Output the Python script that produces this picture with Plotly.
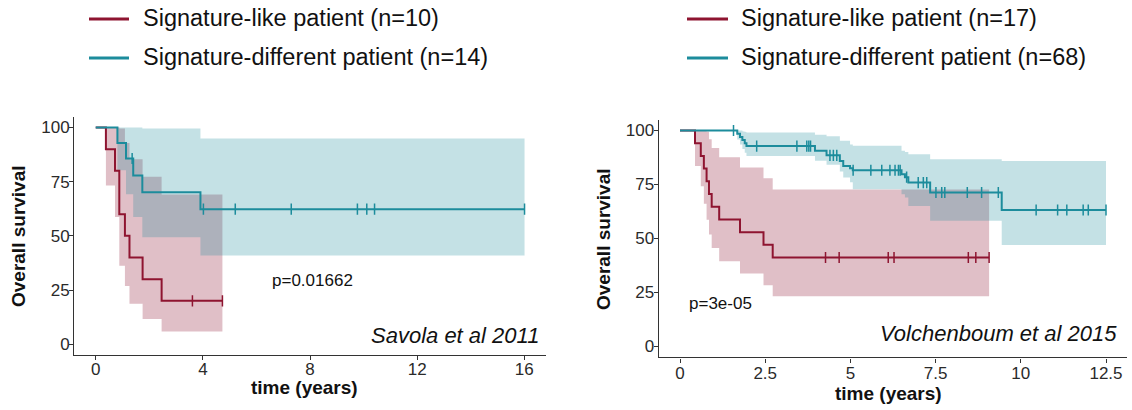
import numpy as np
import plotly.graph_objects as go

# ---------------- Data: Savola et al 2011 (left) ----------------
sav_like_t = [0, 0.38, 0.72, 0.88, 1.09, 1.26, 1.75, 2.46]
sav_like_s = [100, 90, 80, 60, 50, 40, 30, 20]
sav_like_lo = [100, 73.2, 58.7, 36.2, 26.9, 18.7, 11.6, 5.8]
sav_like_hi = [100, 100, 100, 99.5, 92.9, 85.4, 77.3, 69.1]
sav_like_cens = [3.61, 4.73]
sav_like_end = 4.73

sav_diff_t = [0, 0.81, 1.13, 1.40, 1.74, 3.91]
sav_diff_s = [100, 92.9, 85.7, 77.9, 70.1, 62.3]
sav_diff_lo = [100, 80.3, 69.2, 58.7, 49.4, 40.9]
sav_diff_hi = [100, 100, 100, 100, 99.6, 94.9]
sav_diff_cens = [1.36, 4.02, 5.21, 7.30, 9.77, 10.12, 10.41, 16.01]
sav_diff_end = 16.01

# ---------------- Data: Volchenboum et al 2015 (right) ----------------
vol_like_t = [0, 0.44, 0.61, 0.70, 0.78, 0.85, 0.93, 1.15, 1.76, 2.45, 2.72]
vol_like_s = [100, 94.1, 88.2, 82.4, 76.5, 70.6, 64.7, 58.8, 52.9, 47.1, 41.2]
vol_like_lo = [100, 83.6, 74.2, 66.1, 58.7, 51.9, 45.6, 39.5, 33.8, 28.4, 23.3]
vol_like_hi = [100, 100, 100, 100, 99.5, 95.9, 91.9, 87.6, 82.9, 77.9, 72.7]
vol_like_cens = [4.27, 4.67, 6.11, 6.28, 8.46, 8.68, 9.07]
vol_like_end = 9.07

vol_diff_t = [0, 1.68, 1.76, 1.83, 1.90, 1.95, 3.96, 4.30, 4.69, 4.79, 4.99, 5.07,
              6.50, 6.60, 6.70, 7.34, 9.44]
vol_diff_s = [100, 98.5, 97.0, 95.6, 94.1, 92.8, 90.6, 88.5, 85.9, 83.6, 82.5, 81.6,
              79.7, 78.4, 75.9, 71.3, 63.2]
vol_diff_lo = [100, 95.8, 93.5, 91.4, 89.7, 88.2, 86.0, 84.2, 81.0, 78.2, 76.0, 72.8,
               70.5, 69.0, 65.1, 58.2, 47.0]
vol_diff_hi = [100, 100, 100, 99.6, 99.3, 99.1, 98.0, 97.3, 95.2, 95.2, 93.5, 92.9,
               90.6, 90.0, 89.0, 86.7, 85.9]
vol_diff_cens = [1.57, 2.25, 3.43, 3.72, 3.78, 3.83, 4.40, 4.50, 4.60, 5.08, 5.60, 5.92,
                 6.16, 6.31, 6.41, 6.46, 6.65, 6.99, 7.14, 7.24, 7.51, 7.68, 7.77, 8.43,
                 8.85, 9.34, 10.45, 11.08, 11.35, 11.83, 11.98, 12.5]
vol_diff_end = 12.5

legend_left = ["Signature-like patient (n=10)", "Signature-different patient (n=14)"]
legend_right = ["Signature-like patient (n=17)", "Signature-different patient (n=68)"]
x_ticks_left = [0, 4, 8, 12, 16]
x_ticks_right = [0, 2.5, 5, 7.5, 10, 12.5]
x_ticktext_right = ["0", "2.5", "5", "7.5", "10", "12.5"]
y_ticks = [0, 25, 50, 75, 100]

RED = "#8E1430"
TEAL = "#1C8C9C"
RED_FILL = "rgba(142,20,48,0.27)"
TEAL_FILL = "rgba(28,140,156,0.26)"
FONT = "Liberation Sans, Arial, sans-serif"
W, H = 1132, 410

def step_value(ts, ss, tc):
    ts = np.asarray(ts); ss = np.asarray(ss)
    idx = np.searchsorted(ts, tc, side="right") - 1
    return ss[idx]

def band_polygon(ts, lo, hi, t_end):
    xs_u, ys_u, xs_l, ys_l = [], [], [], []
    n = len(ts)
    for i in range(1, n):
        t0 = ts[i]
        t1 = ts[i + 1] if i + 1 < n else t_end
        xs_u += [t0, t1]; ys_u += [hi[i], hi[i]]
        xs_l += [t0, t1]; ys_l += [lo[i], lo[i]]
    return xs_u + xs_l[::-1] + [xs_u[0]], ys_u + ys_l[::-1] + [ys_u[0]]

fig = go.Figure()

def add_group(ts, ss, lo, hi, cens, t_end, color, fill, xa, ya, name):
    px_, py_ = band_polygon(ts, lo, hi, t_end)
    fig.add_trace(go.Scatter(x=px_, y=py_, fill="toself", fillcolor=fill,
                             line=dict(width=0), mode="lines", hoverinfo="skip",
                             showlegend=False, xaxis=xa, yaxis=ya))
    return (ts, ss, cens, t_end, color, xa, ya, name)

groups = []
groups.append(add_group(sav_like_t, sav_like_s, sav_like_lo, sav_like_hi, sav_like_cens,
                        sav_like_end, RED, RED_FILL, "x", "y", legend_left[0]))
groups.append(add_group(sav_diff_t, sav_diff_s, sav_diff_lo, sav_diff_hi, sav_diff_cens,
                        sav_diff_end, TEAL, TEAL_FILL, "x", "y", legend_left[1]))
groups.append(add_group(vol_like_t, vol_like_s, vol_like_lo, vol_like_hi, vol_like_cens,
                        vol_like_end, RED, RED_FILL, "x2", "y2", legend_right[0]))
groups.append(add_group(vol_diff_t, vol_diff_s, vol_diff_lo, vol_diff_hi, vol_diff_cens,
                        vol_diff_end, TEAL, TEAL_FILL, "x2", "y2", legend_right[1]))

for ts, ss, cens, t_end, color, xa, ya, name in groups:
    fig.add_trace(go.Scatter(x=list(ts) + [t_end], y=list(ss) + [ss[-1]],
                             mode="lines", line=dict(color=color, width=2, shape="hv"),
                             name=name, showlegend=False, xaxis=xa, yaxis=ya))
    fig.add_trace(go.Scatter(x=cens, y=step_value(ts, ss, cens), mode="markers",
                             marker=dict(symbol="line-ns-open", size=8, color=color,
                                         line=dict(color=color, width=1.5)),
                             showlegend=False, hoverinfo="skip", xaxis=xa, yaxis=ya))

axis_common = dict(showgrid=False, zeroline=False, showline=True, linecolor="#333333",
                   linewidth=1.4, ticks="outside", ticklen=4, tickwidth=1.2,
                   tickcolor="#333333", tickfont=dict(family=FONT, size=17, color="#2a2a2a"))

fig.update_layout(
    width=W, height=H, margin=dict(l=0, r=0, t=0, b=0),
    paper_bgcolor="white", plot_bgcolor="white", showlegend=False,
    xaxis=dict(domain=[74.3 / W, 545.7 / W], range=[-0.8, 16.8], tickvals=x_ticks_left,
               anchor="y", ticklabelstandoff=-6, **axis_common),
    yaxis=dict(domain=[(H - 355) / H, (H - 116.7) / H], range=[-5, 105], tickvals=y_ticks,
               anchor="x", ticklabelstandoff=-4, **axis_common),
    xaxis2=dict(domain=[658.7 / W, 1127.3 / W], range=[-0.625, 13.125],
                tickvals=x_ticks_right, ticktext=x_ticktext_right, anchor="y2",
                ticklabelstandoff=-4, **axis_common),
    yaxis2=dict(domain=[(H - 357.3) / H, (H - 119.7) / H], range=[-5, 105], tickvals=y_ticks,
                anchor="x2", ticklabelstandoff=-4, **axis_common),
)

ann = []
def txt(x, y, text, size, xanchor="center", yanchor="middle", xref="paper", yref="paper",
        angle=0, bold=False, italic=False):
    if bold:
        text = "<b>" + text + "</b>"
    if italic:
        text = "<i>" + text + "</i>"
    ann.append(dict(x=x, y=y, xref=xref, yref=yref, text=text, showarrow=False,
                    xanchor=xanchor, yanchor=yanchor, textangle=angle,
                    font=dict(family=FONT, size=size, color="#111111")))

# p-values (data coords)
txt(6.51, 29.3, "p=0.01662", 17, xanchor="left", xref="x", yref="y")
txt(0.20, 20.0, "p=3e-05", 17, xanchor="left", xref="x2", yref="y2")
# dataset labels
txt(541 / W, 1 - 335 / H, "Savola et al 2011", 22, xanchor="right", italic=True)
txt(1119 / W, 1 - 333 / H, "Volchenboum et al 2015", 22, xanchor="right", italic=True)
# axis titles
txt(304 / W, 1 - 387 / H, "time (years)", 19, bold=True)
txt(888 / W, 1 - 393 / H, "time (years)", 19, bold=True)
txt(19 / W, 1 - 236 / H, "Overall survival", 19, bold=True, angle=-90)
txt(604 / W, 1 - 239 / H, "Overall survival", 19, bold=True, angle=-90)

# legends (manual)
shapes = []
leg_rows = [18, 57]
for (x0, x1, xt, labels) in [(89, 129, 141, legend_left), (687, 728, 739, legend_right)]:
    for row, (lab, col) in enumerate(zip(labels, [RED, TEAL])):
        yy = 1 - (leg_rows[row] + 1) / H
        shapes.append(dict(type="line", xref="paper", yref="paper", x0=x0 / W, x1=x1 / W,
                           y0=yy, y1=yy, line=dict(color=col, width=3)))
        txt(xt / W, 1 - leg_rows[row] / H, lab, 23.5, xanchor="left")

fig.update_layout(annotations=ann, shapes=shapes)
fig.write_html("out.html", config={"displayModeBar": False},
               post_script="document.body.style.margin='0px';document.body.style.padding='0px';")
